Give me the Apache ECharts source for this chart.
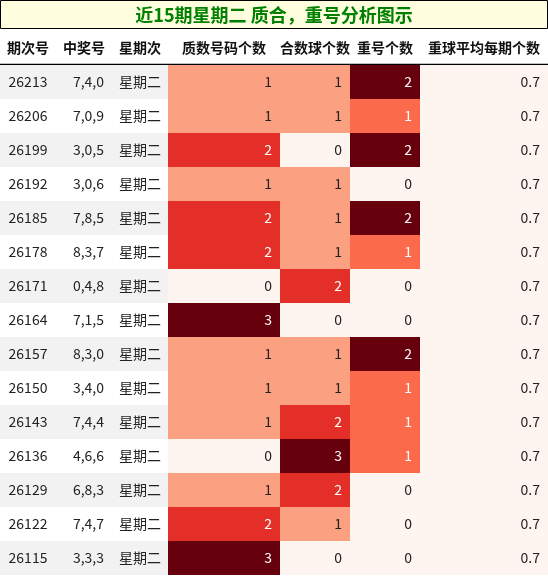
<!DOCTYPE html><html><head><meta charset="utf-8"><script src="https://cdn.jsdelivr.net/npm/echarts@6/dist/echarts.min.js"></script>
<style>html,body{margin:0;padding:0;background:#fff}#c{width:548px;height:576px}</style></head><body><div id="c"></div><script>
const title='近15期星期二 质合，重号分析图示';
const headers=['期次号','中奖号','星期次','质数号码个数','合数球个数','重号个数','重球平均每期个数'];
const issues=['26213','26206','26199','26192','26185','26178','26171','26164','26157','26150','26143','26136','26129','26122','26115'];
const numbers=['7,4,0','7,0,9','3,0,5','3,0,6','7,8,5','8,3,7','0,4,8','7,1,5','8,3,0','3,4,0','7,4,4','4,6,6','6,8,3','7,4,7','3,3,3'];
const weekday=Array(15).fill('星期二');
const primeCount=[1,1,2,1,2,2,0,3,1,1,1,0,1,2,3];
const compositeCount=[1,1,0,1,1,1,2,0,1,1,2,3,2,1,0];
const repeatCount=[2,1,2,0,2,1,0,0,2,1,1,1,0,0,0];
const repeatAvg=[0.7,0.7,0.7,0.7,0.7,0.7,0.7,0.7,0.7,0.7,0.7,0.7,0.7,0.7,0.7];

const colX=[0,56,112,168,280,350,420,548];
const reds=['#fff5f0','#fca082','#fb6a4a','#e32f27','#67000d'];
function heat(v,min,max){if(max===min)return {bg:reds[0],fg:'#222'};const t=(v-min)/(max-min);
  let c; if(t<=0)c=reds[0]; else if(t>=1)c=reds[4]; else if(Math.abs(t-0.5)<0.01)c=reds[2]; else if(t<0.5)c=reds[1]; else c=reds[3];
  return {bg:c,fg:t>=0.5?'#fff':'#222'};}
const numCols=[primeCount,compositeCount,repeatCount,repeatAvg];
const data=[];
issues.forEach((s,i)=>{
  const gray=i%2===0?'#f2f2f2':'#ffffff';
  data.push([0,i,s,gray,'#222','center']);
  data.push([1,i,numbers[i],gray,'#222','right']);
  data.push([2,i,weekday[i],gray,'#222','center']);
  numCols.forEach((arr,k)=>{const mn=Math.min(...arr),mx=Math.max(...arr);const h=heat(arr[i],mn,mx);
    data.push([3+k,i,String(arr[i]),h.bg,h.fg,'right']);});
});
const chart=echarts.init(document.getElementById('c'));
chart.setOption({
  animation:false,
  grid:{left:0,right:0,top:65,bottom:1},
  xAxis:{type:'value',min:0,max:548,show:false},
  yAxis:{type:'category',data:issues,inverse:true,show:false},
  graphic:[
    {type:'rect',shape:{x:0.5,y:0.5,width:547,height:28},style:{fill:'#ffffe0',stroke:'#000',lineWidth:1}},
    {type:'text',x:274,y:15,style:{text:title,fill:'#008000',font:'bold 18px "Noto Sans CJK SC"',align:'center',verticalAlign:'middle'}},
    ...headers.map((h,k)=>({type:'text',x:(colX[k]+colX[k+1])/2,y:48,style:{text:h,fill:'#111',font:'bold 14px "Noto Sans CJK SC"',align:'center',verticalAlign:'middle'}})),
    {type:'line',shape:{x1:0,y1:64.5,x2:548,y2:64.5},style:{stroke:'#000',lineWidth:1.5}}
  ],
  series:[{type:'custom',data:data,renderItem:function(params,api){
    const c=api.value(0),r=api.value(1);
    const x0=api.coord([colX[c],0])[0],x1=api.coord([colX[c+1],0])[0];
    const yc=api.coord([0,r])[1];const hh=api.size([0,1])[1];
    const d=data[params.dataIndex];
    const align=d[5];const tx=align==='center'?(x0+x1)/2:x1-8;
    return {type:'group',children:[
      {type:'rect',shape:{x:x0,y:yc-hh/2,width:x1-x0,height:hh},style:{fill:d[3]}},
      {type:'text',x:tx,y:yc,style:{text:d[2],fill:d[4],align:align,verticalAlign:'middle',font:'14px "Noto Sans CJK SC", "Liberation Sans"'}}
    ]};
  }}]
});
</script></body></html>
